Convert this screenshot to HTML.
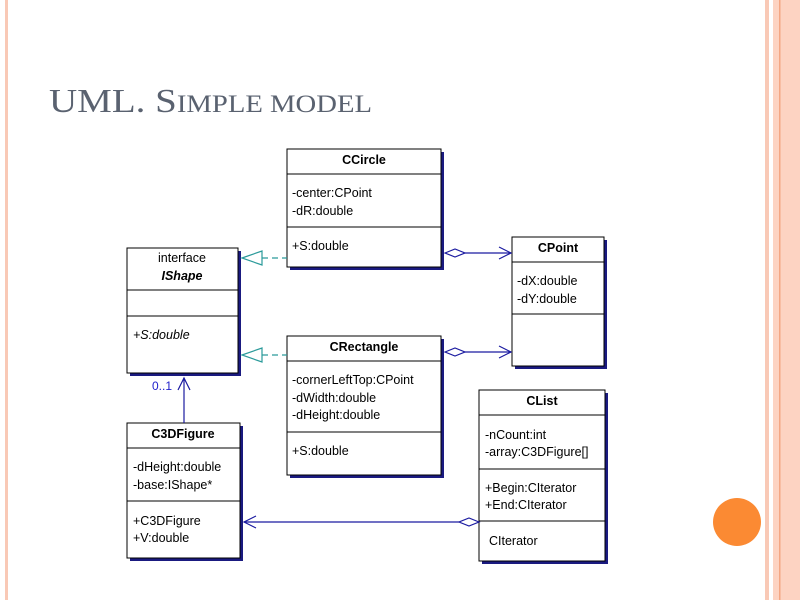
<!DOCTYPE html>
<html><head><meta charset="utf-8"><style>
body{margin:0;width:800px;height:600px;overflow:hidden;background:#fff}
svg{display:block}
text{font-family:"Liberation Sans",Arial,sans-serif;font-size:12.5px;fill:#000}
.b{font-weight:bold}
</style></head><body>
<svg width="800" height="600" viewBox="0 0 800 600">
<rect x="5" y="0" width="3" height="600" fill="#f9c9b6"/>
<rect x="765" y="0" width="4" height="600" fill="#f9c9b6"/>
<rect x="773" y="0" width="27" height="600" fill="#fdd3c2"/>
<rect x="779" y="0" width="1.5" height="600" fill="#f4a784"/>
<circle cx="737" cy="522" r="24" fill="#fb8a33"/>
<text x="49" y="112" textLength="323" lengthAdjust="spacingAndGlyphs" style="font-family:'Liberation Serif',serif;font-size:34px;fill:#5a6270">UML. S<tspan font-size="25">IMPLE MODEL</tspan></text>

<g fill="#fff" stroke="#000" stroke-width="1">
<g fill="#1a1a80" stroke="none">
<rect x="290" y="152" width="154" height="118"/>
<rect x="130" y="251" width="111" height="125"/>
<rect x="515" y="240" width="92" height="129"/>
<rect x="290" y="339" width="154" height="139"/>
<rect x="482" y="393" width="126" height="171"/>
<rect x="130" y="426" width="113" height="135"/>
</g>
<rect x="287" y="149" width="154" height="118"/>
<line x1="287" y1="174" x2="441" y2="174"/><line x1="287" y1="227" x2="441" y2="227"/>
<rect x="127" y="248" width="111" height="125"/>
<line x1="127" y1="290" x2="238" y2="290"/><line x1="127" y1="316" x2="238" y2="316"/>
<rect x="512" y="237" width="92" height="129"/>
<line x1="512" y1="262" x2="604" y2="262"/><line x1="512" y1="314" x2="604" y2="314"/>
<rect x="287" y="336" width="154" height="139"/>
<line x1="287" y1="361" x2="441" y2="361"/><line x1="287" y1="432" x2="441" y2="432"/>
<rect x="479" y="390" width="126" height="171"/>
<line x1="479" y1="415" x2="605" y2="415"/><line x1="479" y1="469" x2="605" y2="469"/><line x1="479" y1="521" x2="605" y2="521"/>
<rect x="127" y="423" width="113" height="135"/>
<line x1="127" y1="448" x2="240" y2="448"/><line x1="127" y1="501" x2="240" y2="501"/>
</g>

<text class="b" x="364" y="164" text-anchor="middle">CCircle</text>
<text x="292" y="197">-center:CPoint</text><text x="292" y="215">-dR:double</text>
<text x="292" y="250">+S:double</text>

<text x="182" y="262" text-anchor="middle">interface</text>
<text class="b" x="182" y="280" text-anchor="middle" font-style="italic">IShape</text>
<text x="133" y="339" font-style="italic">+S:double</text>

<text class="b" x="558" y="252" text-anchor="middle">CPoint</text>
<text x="517" y="285">-dX:double</text><text x="517" y="303">-dY:double</text>

<text class="b" x="364" y="351" text-anchor="middle">CRectangle</text>
<text x="292" y="384">-cornerLeftTop:CPoint</text><text x="292" y="402">-dWidth:double</text><text x="292" y="419">-dHeight:double</text>
<text x="292" y="455">+S:double</text>

<text class="b" x="542" y="405" text-anchor="middle">CList</text>
<text x="485" y="439">-nCount:int</text><text x="485" y="456">-array:C3DFigure[]</text>
<text x="485" y="492">+Begin:CIterator</text><text x="485" y="509">+End:CIterator</text>
<text x="489" y="545">CIterator</text>

<text class="b" x="183" y="438" text-anchor="middle">C3DFigure</text>
<text x="133" y="471">-dHeight:double</text><text x="133" y="489">-base:IShape*</text>
<text x="133" y="525">+C3DFigure</text><text x="133" y="542">+V:double</text>

<g stroke="#2a9a9a" fill="none" stroke-width="1.2">
<line x1="262" y1="258" x2="287" y2="258" stroke-dasharray="6,4"/>
<polygon points="242,258 262,251 262,265" fill="#fff"/>
<line x1="262" y1="355" x2="287" y2="355" stroke-dasharray="6,4"/>
<polygon points="242,355 262,348 262,362" fill="#fff"/>
</g>
<g stroke="#1a1aa0" fill="none" stroke-width="1.2">
<polygon points="445,253 455,249 465,253 455,257" fill="#fff"/>
<line x1="465" y1="253" x2="511" y2="253"/><polyline points="499,247 511,253 499,259"/>
<polygon points="445,352 455,348 465,352 455,356" fill="#fff"/>
<line x1="465" y1="352" x2="511" y2="352"/><polyline points="499,346 511,352 499,358"/>
<polygon points="479,522 469,518 459,522 469,526" fill="#fff"/>
<line x1="244" y1="522" x2="459" y2="522"/><polyline points="256,516 244,522 256,528"/>
<line x1="184" y1="378" x2="184" y2="423"/><polyline points="178,390 184,378 190,390"/>
</g>
<text x="152" y="390" style="fill:#2222cc;font-size:12px">0..1</text>
</svg>
</body></html>
